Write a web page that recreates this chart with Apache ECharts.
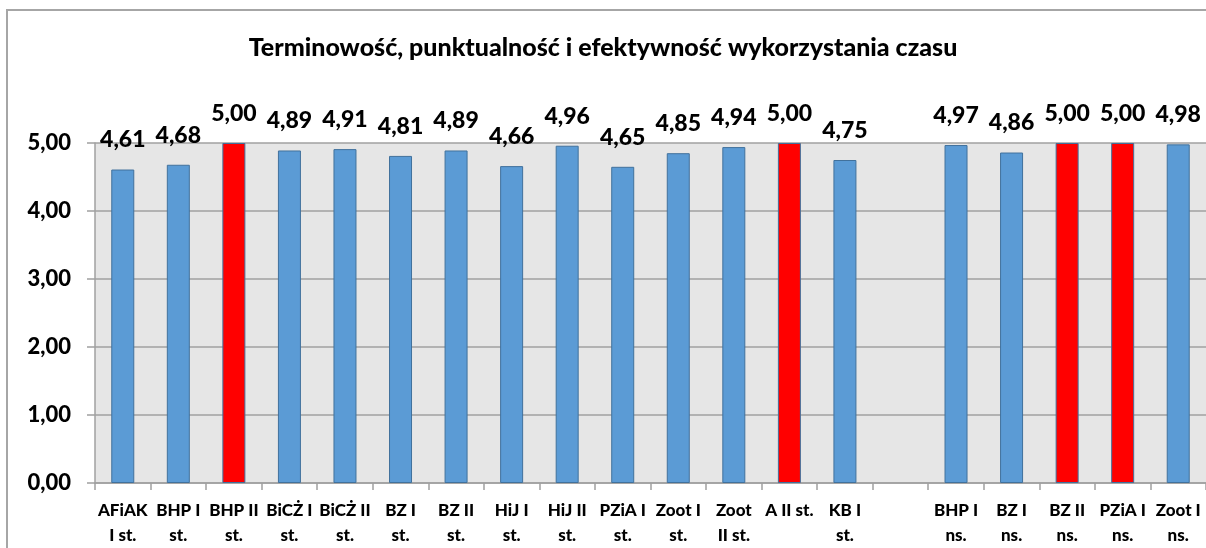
<!DOCTYPE html>
<html lang="pl">

<head>
    <meta charset="UTF-8">
    <title>Terminowość</title>
    <script src="https://cdn.jsdelivr.net/npm/echarts@6/dist/echarts.min.js"></script>
    <style>
        body { margin: 0; background: #fff; }
    </style>
</head>

<body>
    <div id="main" style="width: 1206px;height:548px;"></div>

    <script>
        // dane wykresu
        const categories = ['AFiAK\nI st.', 'BHP I\nst.', 'BHP II\nst.', 'BiCŻ I\nst.', 'BiCŻ II\nst.',
            'BZ I\nst.', 'BZ II\nst.', 'HiJ I\nst.', 'HiJ II\nst.', 'PZiA I\nst.', 'Zoot I\nst.',
            'Zoot\nII st.', 'A II st.', 'KB I\nst.', '', 'BHP I\nns.', 'BZ I\nns.', 'BZ II\nns.',
            'PZiA I\nns.', 'Zoot I\nns.'];
        const values = [4.61, 4.68, 5.00, 4.89, 4.91, 4.81, 4.89, 4.66, 4.96, 4.65, 4.85,
            4.94, 5.00, 4.75, null, 4.97, 4.86, 5.00, 5.00, 4.98];
        const yTicks = [0, 1, 2, 3, 4, 5];

        const myChart = echarts.init(document.getElementById('main'));
        const font = 'Lato, "Open Sans", sans-serif';
        const fmt = (v) => Number(v).toFixed(2).replace('.', ',');

        let option = {
            animation: false,
            textStyle: { fontFamily: font },
            title: {
                text: 'Terminowość, punktualność i efektywność wykorzystania czasu',
                left: 'center',
                top: 30,
                textStyle: { fontFamily: font, fontWeight: 900, fontSize: 25, color: '#000' }
            },
            graphic: [{
                type: 'rect',
                shape: { x: 7, y: 10, width: 1220, height: 560 },
                style: { fill: 'none', stroke: '#a6a6a6', lineWidth: 2 },
                silent: true
            }],
            grid: {
                left: 95, right: 0, top: 143, bottom: 63,
                show: true, backgroundColor: '#e6e6e6', borderWidth: 0
            },
            xAxis: {
                type: 'category',
                data: categories,
                axisLine: { lineStyle: { color: '#a0a0a0', width: 1.5 } },
                axisTick: { show: true, length: 7, lineStyle: { color: '#a0a0a0', width: 1.5 } },
                axisLabel: {
                    interval: 0, margin: 15, color: '#000',
                    fontFamily: font, fontWeight: 900, fontSize: 17, lineHeight: 25
                }
            },
            yAxis: {
                type: 'value',
                min: yTicks[0], max: yTicks[yTicks.length - 1], interval: 1,
                axisLine: { show: true, lineStyle: { color: '#a0a0a0', width: 1.5 } },
                axisTick: { show: true, length: 8, lineStyle: { color: '#a0a0a0', width: 1.5 } },
                splitLine: { lineStyle: { color: '#a0a0a0', width: 1.5 } },
                axisLabel: {
                    margin: 24, color: '#000',
                    fontFamily: font, fontWeight: 900, fontSize: 22,
                    formatter: fmt
                }
            },
            series: [{
                type: 'bar',
                data: values,
                barWidth: 23,
                itemStyle: {
                    color: (p) => p.value >= 5 ? '#ff0000' : '#5b9bd5',
                    borderColor: '#41719c',
                    borderWidth: 1
                },
                label: {
                    show: true, position: 'top', distance: 18,
                    color: '#000', fontFamily: font, fontWeight: 900, fontSize: 23,
                    formatter: (p) => fmt(p.value)
                }
            }]
        };

        myChart.setOption(option);
    </script>
</body>

</html>
